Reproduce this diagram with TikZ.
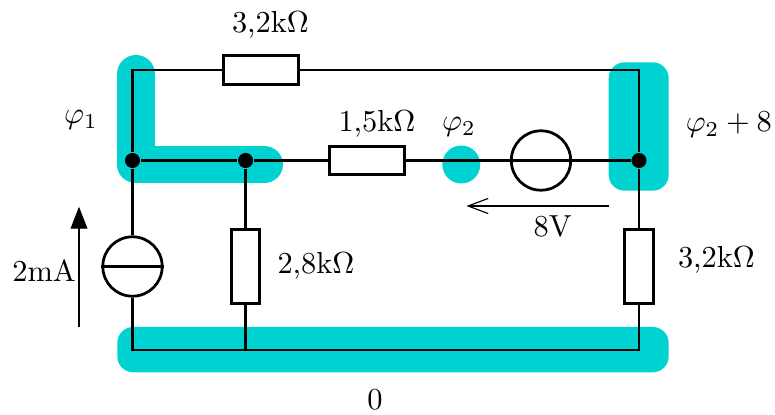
\documentclass[tikz,border=0pt]{standalone}
\usepackage{amsmath}
\usetikzlibrary{arrows.meta}
\definecolor{potcol}{RGB}{0,210,210}
\tikzset{
    wire/.style={line width=0.95pt},
    res/.style={draw,wire,rectangle,inner sep=0pt},
    resh/.style={res,minimum width=25.7pt,minimum height=9.8pt},
    resv/.style={res,minimum width=9.8pt,minimum height=25.7pt},
    src/.style={draw,wire,circle,inner sep=0pt,minimum size=20.5pt},
    junc/.style={circle,fill=black,inner sep=0pt,minimum size=5.2pt},
    lab/.style={anchor=base,inner sep=0pt,scale=1.05},
    pot/.style={potcol,line width=13.1pt,line cap=round,line join=round},
    potbox/.style={fill=potcol,rounded corners=5.5pt},
}
\begin{document}
\begin{tikzpicture}[x=0.345pt,y=-0.345pt]
    \useasboundingbox (0,0) rectangle (775,415);
    % potentials
    \draw[pot] (136,74) -- (136,164.5) -- (264,164.5);
    \draw[pot] (461.3,164.5) -- (461.3,164.5);
    \fill[potbox] (608.7,62.3) rectangle (668.7,190.7);
    \fill[potbox] (117.3,327) rectangle (668.7,372.3);
    % circuit
    \coordinate (tl) at (132.5,70);
    \coordinate (tr) at (639,70);
    \coordinate (bl) at (132.5,350);
    \coordinate (bm) at (245.6,350);
    \coordinate (br) at (639,350);
    \node[junc] (n1) at (132.5,160.5) {};
    \node[junc] (n2) at (245.6,160.5) {};
    \node[junc] (n3) at (639,160.5) {};
    \node[resh] (r1) at (261,70) {};
    \node[resh] (r2) at (367,160.5) {};
    \node[resv] (r3) at (245.6,266.5) {};
    \node[resv] (r4) at (639,266.5) {};
    \node[src] (cs) at (132.5,266.5) {};
    \node[src] (vs) at (541,160.5) {};
    \draw[wire] (n1) -- (tl) -- (r1) -- (tr) -- (n3);
    \draw[wire] (n1) -- (n2) -- (r2) -- (vs) -- (n3);
    \draw[wire] (vs.west) -- (vs.east);
    \draw[wire] (n1) -- (cs) -- (bl) -- (bm) -- (br) -- (r4) -- (n3);
    \draw[wire] (cs.west) -- (cs.east);
    \draw[wire] (n2) -- (r3) -- (bm);
    % arrows
    \coordinate (u1) at (608.5,206);
    \coordinate (u2) at (466.5,206);
    \coordinate (i1) at (79,326.7);
    \coordinate (i2) at (79,206.7);
    \draw[-{Straight Barb[length=6.9pt,width=5.2pt]}] (u1) -- (u2);
    \draw[-{Triangle[length=7.6pt,width=5.8pt]}] (i1) -- (i2);
    % labels
    \node[lab] (l1) at (270.5,32.3) {3,2k$\Omega$};
    \node[lab] (l2) at (377,131.7) {1,5k$\Omega$};
    \node[lab] (l3) at (316,274) {2,8k$\Omega$};
    \node[lab] (l4) at (716.5,267.7) {3,2k$\Omega$};
    \node[lab] (l5) at (552.7,236.7) {8V};
    \node[lab] (l6) at (44,281.7) {2mA};
    \node[lab] (p1) at (81,123.7) {$\varphi_1$};
    \node[lab] (p2) at (459,130.7) {$\varphi_2$};
    \node[lab] (p3) at (728.8,131.7) {$\varphi_2+8$};
    \node[lab] (p0) at (375,410) {0};
\end{tikzpicture}
\end{document}
